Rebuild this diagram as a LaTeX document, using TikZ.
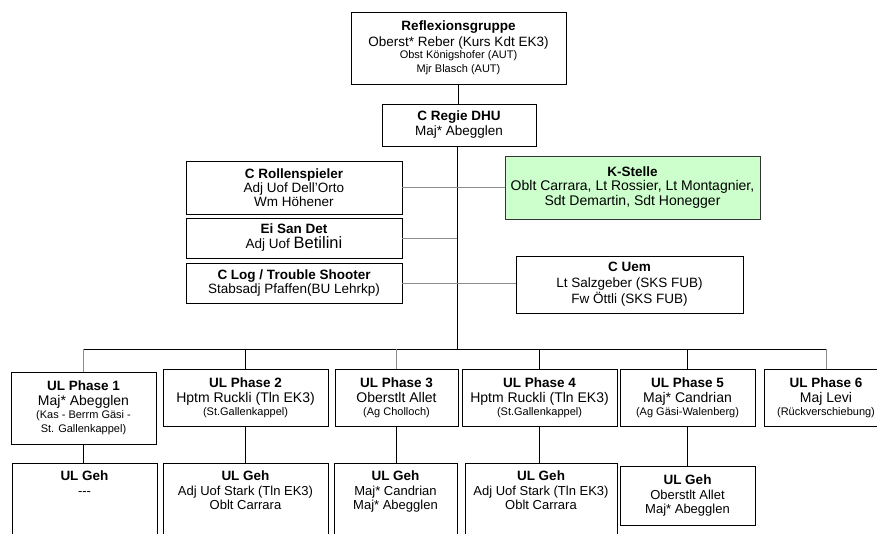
\documentclass[tikz,border=0pt]{standalone}
\usepackage{fontspec}
\setmainfont{Liberation Sans}
\definecolor{kgreen}{HTML}{CCFFCC}
\definecolor{lgray}{HTML}{8C8C8C}
\newcommand\boxtitle[1]{{\fontsize{13.5}{15}\selectfont\bfseries #1}}
\newcommand\smalltxt[1]{{\fontsize{11}{12}\selectfont #1}}
\newcommand\bigtxt[1]{{\fontsize{14}{15}\selectfont #1}}
\begin{document}
\begin{tikzpicture}[x=1pt,y=-1pt,
  box/.style={draw=black, line width=0.8pt, fill=white, inner sep=0pt, outer sep=0pt, align=center, font=\fontsize{13.5}{15}\selectfont},
  txt/.style={inner sep=0pt, align=center, font=\fontsize{13}{14.5}\selectfont},
  conn/.style={draw=black, line width=0.8pt},
  gconn/.style={draw=lgray, line width=0.8pt}]
\useasboundingbox (0,0) rectangle (877,534);
\clip (0,0) rectangle (877,534);
% top
\node[box, minimum width=215pt, minimum height=72pt] (refl) at (458.5,48)
  {\boxtitle{Reflexionsgruppe}\\[1pt] Oberst* Reber (Kurs Kdt EK3)\\[-3pt] \smalltxt{Obst Königshofer (AUT)}\\[-1pt] \smalltxt{Mjr Blasch (AUT)}};
\node[box, minimum width=154pt, minimum height=42pt] (regie) at (459,125)
  {\boxtitle{C Regie DHU}\\ Maj* Abegglen};
% staff
\node[box, minimum width=216pt, minimum height=53pt] (rollen) at (294,187.5)
  {\boxtitle{C Rollenspieler}\\[-1pt] Adj Uof Dell'Orto\\[-1pt] Wm Höhener};
\node[box, minimum width=216pt, minimum height=40pt] (eisan) at (294,238)
  {\boxtitle{Ei San Det}\\ Adj Uof {\fontsize{16.5}{17}\selectfont Betilini}};
\node[box, minimum width=216pt, minimum height=40pt] (clog) at (294,283)
  {\boxtitle{C Log / Trouble Shooter}\\[-1pt] Stabsadj Pfaffen(BU Lehrkp)};
\node[box, fill=kgreen, draw=black!80, minimum width=255pt, minimum height=63pt, font=\fontsize{14}{15}\selectfont] (kst) at (632.5,187.5)
  {\boxtitle{K-Stelle}\\[-1pt] Oblt Carrara, Lt Rossier, Lt Montagnier,\\ Sdt Demartin, Sdt Honegger};
\node[box, minimum width=227pt, minimum height=57pt] (cuem) at (629.5,284.5)
  {\boxtitle{C Uem}\\[1pt] Lt Salzgeber (SKS FUB)\\[1pt] Fw Öttli (SKS FUB)};
% phases
\node[box, minimum width=145pt, minimum height=72pt] (p1) at (83.5,408)
  {\boxtitle{UL Phase 1}\\ \bigtxt{Maj* Abegglen}\\[-2pt] \smalltxt{(Kas - Berrm Gäsi -}\\[-1pt] \smalltxt{St. Gallenkappel)}};
\node[box, minimum width=165pt, minimum height=57pt] (p2) at (245.5,397.5)
  {\boxtitle{UL Phase 2}\\ \bigtxt{Hptm Ruckli (Tln EK3)}\\[-2pt] \smalltxt{(St.Gallenkappel)}};
\node[box, minimum width=123pt, minimum height=57pt] (p3) at (396.5,397.5)
  {\boxtitle{UL Phase 3}\\ \bigtxt{Oberstlt Allet}\\[-2pt] \smalltxt{(Ag Cholloch)}};
\node[box, minimum width=155pt, minimum height=57pt] (p4) at (539.5,397.5)
  {\boxtitle{UL Phase 4}\\ \bigtxt{Hptm Ruckli (Tln EK3)}\\[-2pt] \smalltxt{(St.Gallenkappel)}};
\node[box, minimum width=135pt, minimum height=57pt] (p5) at (687.5,397.5)
  {\boxtitle{UL Phase 5}\\ \bigtxt{Maj* Candrian}\\[-2pt] \smalltxt{(Ag Gäsi-Walenberg)}};
\node[box, minimum width=124pt, minimum height=57pt] (p6) at (826,397.5)
  {\boxtitle{UL Phase 6}\\ \bigtxt{Maj Levi}\\[-2pt] \smalltxt{(Rückverschiebung)}};
% UL Geh
\node[box, anchor=north, minimum width=145pt, minimum height=140pt] (geh1) at (84.5,463) {};
\node[box, anchor=north, minimum width=165pt, minimum height=140pt] (geh2) at (245.5,463) {};
\node[box, anchor=north, minimum width=123pt, minimum height=140pt] (geh3) at (395.5,463) {};
\node[box, anchor=north, minimum width=152pt, minimum height=140pt] (geh4) at (541,463) {};
\node[box, minimum width=135pt, minimum height=59pt, font=\fontsize{13}{14.5}\selectfont] (geh5) at (687.5,495.5)
  {\boxtitle{UL Geh}\\ Oberstlt Allet\\ Maj* Abegglen};
\node[txt, anchor=north] (geh1t) at ([yshift=-8pt]geh1.north) {\boxtitle{UL Geh}\\ -{}-{}-};
\node[txt, anchor=north] (geh2t) at ([yshift=-8pt]geh2.north) {\boxtitle{UL Geh}\\ Adj Uof Stark (Tln EK3)\\ Oblt Carrara};
\node[txt, anchor=north] (geh3t) at ([yshift=-8pt]geh3.north) {\boxtitle{UL Geh}\\ Maj* Candrian\\ Maj* Abegglen};
\node[txt, anchor=north] (geh4t) at ([yshift=-8pt]geh4.north) {\boxtitle{UL Geh}\\ Adj Uof Stark (Tln EK3)\\ Oblt Carrara};
% connectors
\coordinate (busL) at (83.5,349);
\coordinate (busM) at (457,349);
\coordinate (busR) at (826,349);
\draw[conn] (refl.south) -- (refl.south |- regie.north);
\draw[conn] (regie.south -| busM) -- (busM);
\draw[conn] (busL) -- (busR);
\draw[gconn] (rollen.east) -- (kst.west);
\draw[gconn] (eisan.east) -- (eisan.east -| busM);
\draw[gconn] (clog.east) -- (clog.east -| cuem.west);
\draw[gconn] (busL) -- (p1.north);
\draw[conn] (p2.north |- busL) -- (p2.north);
\draw[gconn] (p3.north |- busL) -- (p3.north);
\draw[conn] (p4.north |- busL) -- (p4.north);
\draw[conn] (p5.north |- busL) -- (p5.north);
\draw[gconn] (busR) -- (p6.north);
\draw[conn] (p1.south) -- (p1.south |- geh1.north);
\draw[conn] (p2.south) -- (p2.south |- geh2.north);
\draw[conn] (p3.south) -- (p3.south |- geh3.north);
\draw[conn] (p4.south) -- (p4.south |- geh4.north);
\draw[conn] (p5.south) -- (geh5.north);
\end{tikzpicture}
\end{document}
